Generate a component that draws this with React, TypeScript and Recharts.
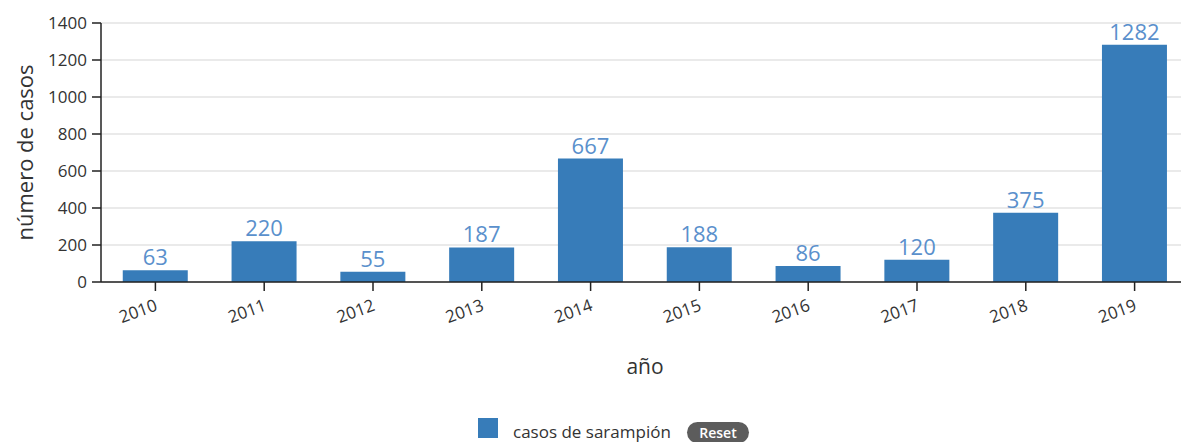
import React from 'react';
import { BarChart, Bar, XAxis, YAxis, CartesianGrid, LabelList, Legend } from 'recharts';

const years = ['2010', '2011', '2012', '2013', '2014', '2015', '2016', '2017', '2018', '2019'];
const cases = [63, 220, 55, 187, 667, 188, 86, 120, 375, 1282];
const yTicks = [0, 200, 400, 600, 800, 1000, 1200, 1400];
const seriesName = 'casos de sarampión';
const xTitle = 'año';
const yTitle = 'número de casos';

const data = years.map((y, i) => ({ year: y, value: cases[i] }));

const FONT = '"Open Sans", "DejaVu Sans", sans-serif';
const BAR = '#377cb9';

const XTick = (props: any) => {
  const { x, y, payload } = props;
  const ax = x + 3;
  const ay = y + 17;
  return (
    <text x={ax} y={ay} textAnchor="end" transform={`rotate(-20 ${ax} ${ay})`} fontSize={17} fill="#333" fontFamily={FONT}>
      {payload.value}
    </text>
  );
};

const YTitle = (props: any) => {
  const { viewBox } = props;
  const cx = 33;
  const cy = viewBox.y + viewBox.height / 2;
  return (
    <text x={cx} y={cy} textAnchor="middle" transform={`rotate(-90 ${cx} ${cy})`} fontSize={22} fill="#333" fontFamily={FONT}>
      {yTitle}
    </text>
  );
};

const XTitle = (props: any) => {
  const { viewBox } = props;
  const cx = viewBox.x + viewBox.width / 2;
  const cy = 374;
  return (
    <text x={cx} y={cy} textAnchor="middle" fontSize={21} fill="#333" fontFamily={FONT}>
      {xTitle}
    </text>
  );
};

const LegendContent = () => (
  <div style={{ position: 'relative', height: 40, width: 1181, fontFamily: FONT }}>
    <div style={{ position: 'absolute', left: 478, top: 16, width: 20, height: 20, background: BAR }} />
    <span style={{ position: 'absolute', left: 513, top: 21, fontSize: 17, lineHeight: '17px', color: '#333', whiteSpace: 'nowrap' }}>
      {seriesName}
    </span>
    <span style={{ position: 'absolute', left: 687, top: 20, width: 62, height: 21, borderRadius: 10.5, background: '#5c5c5c', color: '#fff', fontSize: 14, fontWeight: 600, lineHeight: '21px', textAlign: 'center' }}>
      Reset
    </span>
  </div>
);

export default function App() {
  return (
    <div style={{ position: 'absolute', left: 0, top: 0, width: 1181, height: 442, overflow: 'hidden', background: '#fff' }}>
      <BarChart width={1195} height={442} data={data} margin={{ top: 23, right: 6, bottom: 0, left: 0 }} barCategoryGap="20%">
        <CartesianGrid vertical={false} stroke="#e3e3e3" strokeWidth={1.5} />
        <XAxis
          dataKey="year"
          height={120}
          tickSize={9}
          tick={<XTick />}
          axisLine={{ stroke: '#222', strokeWidth: 1.5 }}
          tickLine={{ stroke: '#222', strokeWidth: 1.5 }}
          interval={0}
          label={<XTitle />}
        />
        <YAxis
          width={101}
          domain={[0, 1400]}
          ticks={yTicks}
          interval={0}
          tickSize={9}
          tickMargin={5}
          tick={{ fontSize: 17, fill: '#333', fontFamily: FONT }}
          axisLine={{ stroke: '#222', strokeWidth: 1.5 }}
          tickLine={{ stroke: '#222', strokeWidth: 1.5 }}
          label={<YTitle />}
        />
        <Legend verticalAlign="bottom" height={40} wrapperStyle={{ left: 0, width: 1181 }} content={<LegendContent />} />
        <Bar dataKey="value" name={seriesName} fill={BAR} isAnimationActive={false}>
          <LabelList dataKey="value" position="top" offset={5} fill="#5a90cc" fontSize={22} fontFamily={FONT} />
        </Bar>
      </BarChart>
    </div>
  );
}
